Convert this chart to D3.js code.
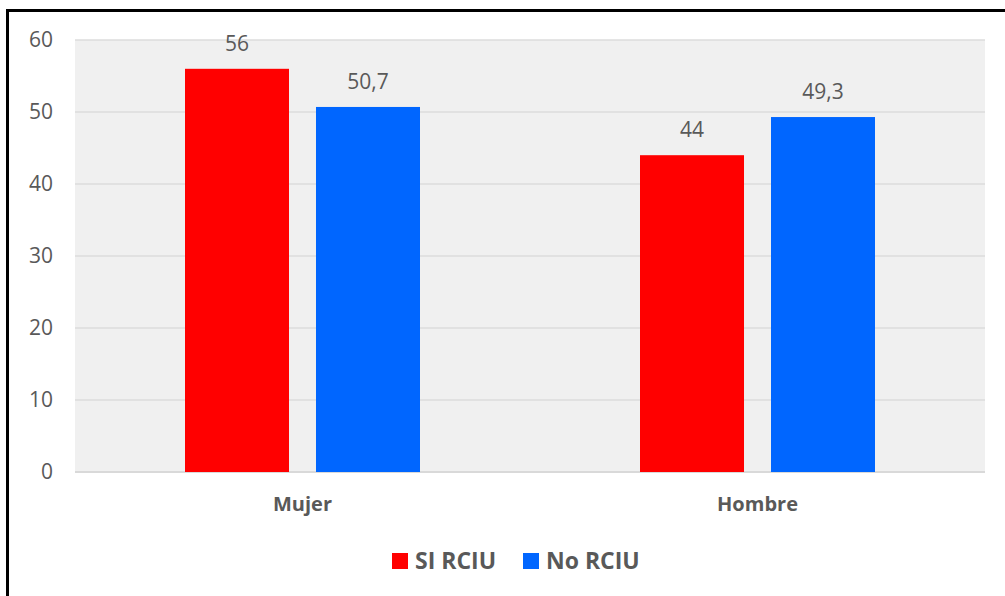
<!DOCTYPE html>
<html>
<head>
<meta charset="utf-8">
<script src="https://cdn.jsdelivr.net/npm/d3@7"></script>
<style>
  html, body { margin: 0; padding: 0; background: #fff; }
  svg { display: block; }
</style>
</head>
<body>
<svg id="chart"></svg>
<script>
// data
const categories = ['Mujer', 'Hombre'];
const seriesNames = ['SI RCIU', 'No RCIU'];
const siRciu = [56, 44];
const noRciu = [50.7, 49.3];
const valueLabels = [['56', '44'], ['50,7', '49,3']];
const yTicks = [0, 10, 20, 30, 40, 50, 60];

const colors = ['#ff0000', '#0066ff'];
const W = 1005, H = 596;
const margin = {top: 40, right: 20, bottom: 124, left: 75};
const width = 985 - margin.left;
const height = 472 - margin.top;

const svg = d3.select('#chart').attr('width', W).attr('height', H);

// frame (only top and left edges show in the crop)
svg.append('path')
  .attr('d', 'M7.5,' + H + 'V10.5H' + W)
  .attr('fill', 'none')
  .attr('stroke', '#000')
  .attr('stroke-width', 3);

const g = svg.append('g').attr('transform', 'translate(' + margin.left + ',' + margin.top + ')');

const x0 = d3.scaleBand().domain(categories).range([0, width]).paddingInner(0).paddingOuter(0);
const x1 = d3.scaleBand().domain(seriesNames).range([110, x0.bandwidth() - 110]).paddingInner(0.206);
const y = d3.scaleLinear().domain([0, 60]).range([height, 0]);

g.append('rect')
  .attr('width', width)
  .attr('height', height)
  .attr('fill', '#f0f0f0');

// grid
g.selectAll('.grid').data(yTicks).enter().append('line')
  .attr('class', 'grid')
  .attr('x1', 0).attr('x2', width)
  .attr('y1', (d) => y(d)).attr('y2', (d) => y(d))
  .attr('stroke', (d) => d === 0 ? '#d9d9d9' : '#dcdcdc')
  .attr('stroke-width', (d) => d === 0 ? 2 : 1.3);

const yAxis = d3.axisLeft(y).tickValues(yTicks).tickSize(0).tickPadding(22);
g.append('g')
  .attr('class', 'y axis')
  .call(yAxis)
  .call((a) => a.select('.domain').remove())
  .selectAll('text')
  .attr('fill', '#595959')
  .attr('font-family', 'Open Sans, sans-serif')
  .attr('font-size', 21);

const xAxis = d3.axisBottom(x0).tickSize(0).tickPadding(25);
g.append('g')
  .attr('class', 'x axis')
  .attr('transform', 'translate(0,' + height + ')')
  .call(xAxis)
  .call((a) => a.select('.domain').remove())
  .selectAll('text')
  .attr('fill', '#595959')
  .attr('font-family', 'Open Sans, sans-serif')
  .attr('font-weight', 'bold')
  .attr('font-size', 20);

const series = [siRciu, noRciu];
const rows = [];
series.forEach((vals, s) => {
  vals.forEach((v, c) => {
    rows.push({cat: categories[c], name: seriesNames[s], value: v, label: valueLabels[s][c], color: colors[s]});
  });
});

const groups = g.selectAll('.bar').data(rows).enter().append('g').attr('class', 'bar')
  .attr('transform', (d) => 'translate(' + (x0(d.cat) + x1(d.name)) + ',0)');

groups.append('rect')
  .attr('x', 0)
  .attr('y', (d) => y(d.value))
  .attr('width', x1.bandwidth())
  .attr('height', (d) => height - y(d.value))
  .attr('fill', (d) => d.color);

groups.append('text')
  .attr('x', x1.bandwidth() / 2)
  .attr('y', (d) => y(d.value) - 18)
  .attr('text-anchor', 'middle')
  .attr('fill', '#595959')
  .attr('font-family', 'Open Sans, sans-serif')
  .attr('font-size', 21)
  .text((d) => d.label);

// legend
const legend = svg.append('g').attr('transform', 'translate(392,553)');
const legendX = [0, 131];
seriesNames.forEach((name, i) => {
  const item = legend.append('g').attr('transform', 'translate(' + legendX[i] + ',0)');
  item.append('rect').attr('width', 16).attr('height', 16).attr('fill', colors[i]);
  item.append('text')
    .attr('x', 23)
    .attr('y', 16)
    .attr('fill', '#595959')
    .attr('font-family', 'Open Sans, sans-serif')
    .attr('font-weight', 'bold')
    .attr('font-size', 23)
    .text(name);
});
</script>
</body>
</html>
